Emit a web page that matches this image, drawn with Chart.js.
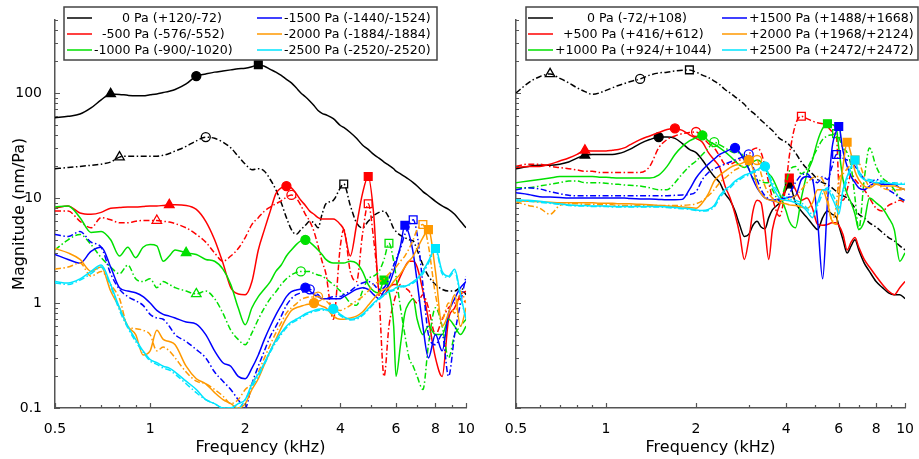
<!DOCTYPE html>
<html>
<head>
<meta charset="utf-8">
<script src="https://cdn.jsdelivr.net/npm/chart.js@4.4.1/dist/chart.umd.min.js"></script>
<style>
  body { margin: 0; background: #fff; }
  #wrap { position: relative; width: 919px; height: 459px; }
  #wrap canvas { position: absolute; top: 0; }
  #left { left: 0; }
  #right { left: 480px; }
</style>
</head>
<body>
<div id="wrap">
  <canvas id="left" width="480" height="459"></canvas>
  <canvas id="right" width="439" height="459"></canvas>
</div>
<script>
// frequency grid (kHz), shared by every curve
const freq = [0.5,0.55,0.6,0.65,0.7,0.75,0.8,0.85,0.9,0.95,
  1.0,1.05,1.1,1.15,1.2,1.3,1.4,1.5,1.6,1.7,
  1.8,1.9,2.0,2.1,2.2,2.3,2.4,2.5,2.6,2.7,
  2.8,2.9,3.0,3.1,3.2,3.3,3.4,3.5,3.6,3.8,
  4.0,4.1,4.3,4.5,4.7,4.9,5.1,5.3,5.5,5.7,
  5.9,6.0,6.2,6.4,6.6,6.8,7.0,7.3,7.6,8.0,
  8.4,8.8,9.2,9.6,10];

const xTicks = [0.5,0.6,0.7,0.8,0.9,1,2,3,4,5,6,7,8,9,10];
const xLabels = [0.5,1,2,4,6,8,10];
const yTicks = [0.1,0.2,0.3,0.4,0.5,0.6,0.7,0.8,0.9,1,2,3,4,5,6,7,8,9,
  10,20,30,40,50,60,70,80,90,100,200,300,400,500];
const yLabels = [0.1,1,10,100];

const legendL = ['       0 Pa (+120/-72)', '  -500 Pa (-576/-552)', '-1000 Pa (-900/-1020)',
  '-1500 Pa (-1440/-1524)', '-2000 Pa (-1884/-1884)', '-2500 Pa (-2520/-2520)'];
const legendR = ['        0 Pa (-72/+108)', '  +500 Pa (+416/+612)', '+1000 Pa (+924/+1044)',
  '+1500 Pa (+1488/+1668)', '+2000 Pa (+1968/+2124)', '+2500 Pa (+2472/+2472)'];
const legendKeys = ['k','r','g','b','o','c'];

// ---- negative pressure (left) ----
const L_k_s = [58,60,63,72,86,98,97,95,94,94,
  96,98,101,104,108,122,145,152,158,162,
  166,170,172,178,186,180,168,158,147,135,
  125,112,100,92,84,76,68,64,62,57,
  49,47,42,37,32,29,26,24,22,20.5,
  19,18,17,16,15,14,13,11.5,10.5,9.3,
  8.4,7.8,7,6,5.2];
const L_k_d = [19,19.5,20,20.5,21,22,24.5,25,25,25,
  25,25,25.5,26.5,28,31,35,38,37,34,
  30,25,21,18.6,19,18,15,12,9,6.5,
  5,4.5,5,5.5,6,5.8,5.2,7,8.8,9.5,
  12.5,13.6,8.5,5.8,5.2,6,6.8,7.3,7.5,6.5,
  5.1,4.8,4.4,4.2,4,3.9,3.2,2.3,1.8,1.5,
  1.35,1.3,1.3,1.4,1.2];
const L_r_s = [8,8.4,7.2,7,7.3,8,8.1,8.2,8.2,8.3,
  8.4,8.4,8.5,8.6,8.6,8.5,7.8,6,4,2.4,
  1.4,1.22,1.2,1.6,3.2,5,7.5,11,12.5,13,
  12.5,11,9.5,8.5,7.5,7,6.5,6.3,6.3,6.3,
  5.6,5,2.8,5.5,11,16,7,1.3,1.2,1.4,
  1.5,1.5,1.8,2.2,2.5,2.5,2.2,1.3,0.7,0.3,
  0.2,0.7,0.9,1.2,1.3];
const L_r_d = [7.5,7.5,6,5.2,6.5,6.2,5.8,5.8,6,6.1,
  6.1,6.1,6,5.9,5.7,5.2,4.5,3.8,3.0,2.5,
  2.8,3.3,4.2,5.6,6.5,7.5,8.2,8.8,9.4,10.2,
  10.7,10,8.5,7,6,4.8,3.5,2.5,1.9,0.7,
  3.5,5,2,1.6,4.5,8.8,4,1.2,0.2,0.6,
  1.0,1.2,1.5,1.4,1.3,1.1,1.0,1.2,0.9,0.5,
  0.7,0.9,1.0,1.1,1.0];
const L_g_s = [8.2,8.4,6.5,4.7,4.8,4,2.8,3.4,2.7,3.4,
  3.6,3.5,2.5,2.8,3.2,3.0,2.9,2.6,2.5,2.1,
  1.5,0.9,0.62,0.9,1.15,1.36,1.6,2.0,2.3,2.8,
  3.2,3.6,3.9,4.0,3.8,3.5,3.2,2.9,2.6,2.4,
  2.4,2.4,2.5,2.4,2.0,1.5,1.3,1.25,1.65,1.3,
  0.6,0.2,0.4,0.8,1.0,1.1,0.7,0.5,0.6,0.5,
  0.5,0.7,0.6,0.5,0.6];
const L_g_d = [3.2,4.0,4.5,3.6,2.7,2.2,1.9,2.3,1.7,1.6,
  1.7,1.4,1.6,1.5,1.4,1.3,1.22,1.3,1.1,0.8,
  0.55,0.45,0.4,0.52,0.7,0.9,1.1,1.28,1.5,1.7,
  1.85,1.95,2.0,2.0,2.0,1.9,1.85,1.8,1.7,1.5,
  1.3,1.2,1.0,0.95,1.3,1.7,1.8,2.0,2.6,3.7,
  2.5,1.8,0.9,0.5,0.3,0.25,0.2,0.15,0.4,0.9,
  0.6,0.3,0.5,0.6,0.7];
const L_b_s = [2.9,2.6,2.4,3.1,3.4,2.2,1.4,1.3,1.25,1.15,
  1.0,0.85,0.78,0.75,0.72,0.66,0.63,0.5,0.35,0.27,
  0.25,0.2,0.19,0.24,0.32,0.45,0.6,0.77,0.95,1.15,
  1.28,1.33,1.36,1.4,1.3,1.2,1.15,1.1,1.1,1.1,
  1.1,1.15,1.25,1.35,1.4,1.35,1.2,1.1,1.3,1.5,
  2.0,2.4,3.5,5.5,4.5,3.0,1.6,0.6,0.3,0.5,
  0.35,0.8,1.1,1.4,1.6];
const L_b_d = [4.5,4.3,4.8,3.8,3.4,1.9,1.35,1.15,1.05,0.95,
  0.78,0.72,0.7,0.6,0.5,0.43,0.36,0.3,0.22,0.18,
  0.15,0.12,0.1,0.17,0.25,0.35,0.48,0.6,0.75,0.95,
  1.1,1.2,1.25,1.3,1.35,1.25,1.2,1.1,1.1,1.15,
  1.15,1.2,1.3,1.45,1.55,1.6,1.5,1.35,1.4,1.7,
  2.3,2.6,3.3,4.5,5.3,6.2,4.5,1.5,0.5,0.4,
  0.5,0.2,0.5,1.0,1.8];
const L_o_s = [3.3,3.0,2.6,2.0,2.2,1.3,0.9,0.6,0.5,0.32,
  0.35,0.55,0.45,0.43,0.4,0.25,0.19,0.17,0.14,0.12,
  0.11,0.1,0.11,0.15,0.19,0.26,0.35,0.45,0.58,0.72,
  0.85,0.9,0.93,0.96,0.98,1.0,0.97,0.93,0.9,0.75,
  0.7,0.7,0.72,0.75,0.82,0.95,1.1,1.25,1.35,1.4,
  1.6,1.7,1.9,2.2,2.5,2.8,3.3,4.2,5.0,2.0,
  0.6,0.8,1.2,0.6,0.9];
const L_o_d = [2.1,2.2,2.4,1.8,2.0,1.5,1.1,0.6,0.57,0.55,
  0.5,0.35,0.38,0.35,0.3,0.22,0.18,0.17,0.15,0.13,
  0.11,0.12,0.15,0.17,0.22,0.3,0.4,0.52,0.65,0.8,
  0.9,0.98,1.08,1.12,1.14,1.14,1.15,1.1,1.05,0.9,
  0.85,0.87,0.95,1.05,1.15,1.3,1.5,1.6,1.7,1.9,
  2.1,2.2,2.5,2.8,3.3,4.0,5.0,5.6,3.5,1.2,
  0.7,1.0,0.8,1.3,1.0];
const L_c_s = [1.6,1.55,1.7,2.0,2.3,1.5,0.9,0.6,0.45,0.35,
  0.29,0.27,0.25,0.24,0.22,0.18,0.15,0.12,0.11,0.1,
  0.1,0.11,0.12,0.17,0.21,0.27,0.35,0.44,0.52,0.6,
  0.66,0.7,0.74,0.79,0.82,0.85,0.87,0.88,0.86,0.88,
  0.78,0.74,0.7,0.72,0.78,0.88,1.0,1.1,1.2,1.3,
  1.35,1.4,1.45,1.45,1.5,1.6,1.7,2.0,2.5,3.3,
  2.0,1.8,2.1,1.2,0.7];
const L_c_d = [1.55,1.5,1.65,1.9,2.2,1.45,0.85,0.58,0.43,0.34,
  0.28,0.26,0.24,0.23,0.21,0.17,0.14,0.12,0.11,0.1,
  0.1,0.1,0.12,0.16,0.2,0.26,0.34,0.42,0.5,0.58,
  0.64,0.68,0.72,0.77,0.8,0.83,0.85,0.86,0.85,0.84,
  0.76,0.72,0.69,0.7,0.76,0.86,0.98,1.08,1.18,1.27,
  1.32,1.38,1.42,1.43,1.48,1.55,1.65,1.9,2.4,3.2,
  1.9,1.75,2.0,1.15,0.7];

// ---- positive pressure (right) ----
const R_k_s = [19,20,20.5,20.5,21,22,24,25.5,26,26,
  26,26,26.5,27.5,29,33,36,38,38,37,
  33,29,27,23,19,16,14,11,9.5,7.5,
  5.5,4.3,4.5,5.5,6,5.3,5.1,6.5,7.7,9,
  12,13.6,9,7.5,6.5,5.6,5.0,6.5,7.5,7,
  6.5,5.5,4,3,3.5,4,3.2,2.4,2.0,1.6,
  1.4,1.25,1.2,1.2,1.1];
const R_k_d = [100,125,143,152,138,125,112,103,97,100,
  106,112,118,123,128,136,148,155,158,162,
  165,166,158,148,140,130,120,108,100,92,
  85,78,70,65,60,55,51,47,44,37,
  34,32,27,22,19,17,15,14,13.5,12.5,
  11.5,11,10.5,10,9,8,7,6.5,5.8,5.3,
  4.7,4.2,3.9,3.5,3.2];
const R_r_s = [19.5,20,20,21,22.5,24,26,28.5,28,28,
  28,28.5,29,30,32,36,39,42,45,46,
  44,40,37,34,27,23,19.5,13,10,7,
  4.5,2.6,4,7.5,9.5,9,5,2.6,5,8.5,
  13,15.5,12,9.5,10,8,5.6,5.5,5.6,5.8,
  5.8,5.5,4.5,3.2,3.8,4.2,3.4,2.6,2.2,1.8,
  1.5,1.3,1.2,1.4,1.6];
const R_r_d = [20,21,21,20,19.5,19,18.5,18,18,17.5,
  17.5,17.5,17.5,17.5,17.5,17.5,20,30,36,39,
  41,42,42.5,38,33,30,25,21,21,22,
  23,24,26,29,30,27,20,14,10,6.7,
  13.6,25,50,60,57,54,52,51,48,43,
  38,13.6,9.5,12,17,15,13.6,12,10,8,
  7.5,8.5,9,9.5,9];
const R_g_s = [14,14.5,15,15.5,16,16,16,16,16,15.8,
  15.8,15.6,15.5,15.5,15.5,15.5,15.5,16.5,20,26,
  31,35,37.5,39.5,35,32.5,30,27.5,25,22.5,
  20.5,19.5,20.5,22,23,22,19,17,15.5,11,
  7.5,6,5.2,10,17,23,35,46,51,50,
  45,30,15,11,9,7,5,6,10,9,
  8,6.5,5,2.5,3];
const R_g_d = [12.5,12.5,13,13.5,14,14.5,14.5,14,14,14,
  13.8,13.6,13.5,13.3,13.2,13,12.5,12,12,14,
  17,20,22.5,26,30,34,32,30,28,27,
  27,24,19,15.5,15,14.5,14,14,12,9.4,
  14,18,20,17,19,24,30,36,39,40,
  41,38,30,27,20,10,5,15,30,20,
  15.5,14,12,10,9.4];
const R_b_s = [11.2,10.8,10.3,10.2,10.1,10,10,10,10,10,
  10,10,10,10,9.9,9.8,9.8,9.7,9.6,9.6,
  9.7,12,15.5,18.5,21,23.5,26,27.5,29,30,
  27,23,19,15,12.5,11,10,9.7,9.5,9.8,
  10,10.2,10.5,15,16,15,6,1.7,9,30,
  44,48,28,20,16,14,12.5,12,13,14,
  13.5,13.5,13.5,12.5,12];
const R_b_d = [12,12.5,12.2,11.5,11,10.6,10.5,10.5,10.5,10.5,
  10.5,10.5,10.5,10.5,10.5,10.5,10.5,10.5,10.5,10.6,
  10.7,10.8,11.5,15,17.5,19,20,21,22,23,
  24,25,26,20,15,12,10.5,9.8,9.4,9.5,
  10,11,14,16.5,17,15,14,16,15,20,
  26,26,24,23,22,20,18,15,14,15,
  14,12,11,10,9.4];
const R_o_s = [9.4,9.3,9.2,9.1,9.0,9.0,9.0,9.0,9.0,8.9,
  8.9,8.9,8.8,8.8,8.8,8.7,8.6,8.5,8.4,8.3,
  8.2,8.1,8.0,9,11,14.5,16.5,18,19.5,20.5,
  21,22,23,19,13,11,10,9.6,9.5,9,
  8.8,8.6,8.5,8.2,8,9,12,12,9,6,
  5.6,10,20,34,26,18,15,13,12.5,13.5,
  13,13,13,12.5,12];
const R_o_d = [9.2,8.5,8.0,7.0,8.5,8.8,8.8,8.7,8.7,8.6,
  8.6,8.6,8.5,8.5,8.5,8.5,8.5,8.5,8.5,8.5,
  8.5,8.6,8.8,9.4,10.5,12,14,15.5,17,18.5,
  19.5,20.5,21.5,22.5,23,17,13,11,10,9.5,
  9.5,9.8,10.5,12,14,15.5,16,15,10,6,
  9,15,17,19,21,23,22,16,13,14,
  12.5,12,12,12,12];
const R_c_s = [9.6,9.5,9.3,9.0,8.8,8.6,8.5,8.5,8.4,8.4,
  8.4,8.3,8.3,8.3,8.3,8.3,8.3,8.3,8.2,8.1,
  8.0,7.9,7.7,7.6,7.8,8.5,10.5,12,13,14.5,
  15.5,16.5,17,18,18.5,19.5,20,16,13,10,
  9.5,9.4,9,8.5,7.5,6.5,9,12,12,10,
  8,7,12,16,20,23,17,15,14.5,14,
  14,13.8,13.6,13.5,13.5];
const R_c_d = [9.4,9.3,9.1,8.9,8.7,8.5,8.4,8.4,8.3,8.3,
  8.3,8.2,8.2,8.2,8.2,8.2,8.2,8.2,8.1,8.0,
  7.9,7.8,7.6,7.5,7.6,8.2,10,11.5,12.5,14,
  15,16,16.5,17.5,18,19,19.5,17,14,11,
  10,9.8,9.5,9,8,7,8.5,11,12.5,11,
  9,8,11,15,19,22,18,15.5,15,14.5,
  14.5,14,14,13.8,13.8];

// markers: [shape, frequency on the grid]
const marksL = {
  k_s: [['triangle',0.75],['circle',1.4],['rect',2.2]],
  k_d: [['triangle',0.8],['circle',1.5],['rect',4.1]],
  r_s: [['triangle',1.15],['circle',2.7],['rect',4.9]],
  r_d: [['triangle',1.05],['circle',2.8],['rect',4.9]],
  g_s: [['triangle',1.3],['circle',3.1],['rect',5.5]],
  g_d: [['triangle',1.4],['circle',3.0],['rect',5.7]],
  b_s: [['circle',3.1],['rect',6.4]],
  b_d: [['circle',3.2],['rect',6.8]],
  o_s: [['circle',3.3],['rect',7.6]],
  o_d: [['circle',3.4],['rect',7.3]],
  c_s: [['circle',3.8],['rect',8.0]],
  c_d: []
};
const marksR = {
  k_s: [['triangle',0.85],['circle',1.5],['rect',4.1]],
  k_d: [['triangle',0.65],['circle',1.3],['rect',1.9]],
  r_s: [['triangle',0.85],['circle',1.7],['rect',4.1]],
  r_d: [['circle',2.0],['rect',4.5]],
  g_s: [['circle',2.1],['rect',5.5]],
  g_d: [['circle',2.3],['rect',5.9]],
  b_s: [['circle',2.7],['rect',6.0]],
  b_d: [['circle',3.0],['rect',5.9]],
  o_s: [['circle',3.0],['rect',6.4]],
  o_d: [['circle',3.2],['rect',6.8]],
  c_s: [['circle',3.4],['rect',6.8]],
  c_d: []
};

const seriesL = { k_s: L_k_s, k_d: L_k_d, r_s: L_r_s, r_d: L_r_d, g_s: L_g_s, g_d: L_g_d,
  b_s: L_b_s, b_d: L_b_d, o_s: L_o_s, o_d: L_o_d, c_s: L_c_s, c_d: L_c_d };
const seriesR = { k_s: R_k_s, k_d: R_k_d, r_s: R_r_s, r_d: R_r_d, g_s: R_g_s, g_d: R_g_d,
  b_s: R_b_s, b_d: R_b_d, o_s: R_o_s, o_d: R_o_d, c_s: R_c_s, c_d: R_c_d };

const colors = { k: '#000000', r: '#ff0000', g: '#00e000', b: '#0000ff', o: '#ff9900', c: '#00e5ff' };
const drawOrder = { k: 6, r: 5, g: 4, b: 3, o: 2, c: 1 };

Chart.defaults.font.family = '"DejaVu Sans", sans-serif';
Chart.defaults.color = '#000';

function makeDataset(key, values, marks) {
  const color = colors[key[0]];
  const dashed = key[2] === 'd';
  const at = {};
  marks.forEach(m => { at[freq.indexOf(m[1])] = m[0]; });
  return {
    data: values.map((v, i) => ({ x: freq[i], y: v })),
    borderColor: color,
    borderWidth: 1.5,
    borderDash: dashed ? [6, 2.5, 1.5, 2.5] : [],
    cubicInterpolationMode: 'monotone',
    fill: false,
    pointStyle: values.map((v, i) => at[i] || 'circle'),
    pointRadius: values.map((v, i) => at[i] ? (at[i] === 'circle' ? 4.5 : 5.5) : 0),
    pointHoverRadius: 0,
    pointBorderColor: color,
    pointBorderWidth: 1.3,
    pointBackgroundColor: dashed ? 'rgba(255,255,255,0)' : color,
    order: drawOrder[key[0]]
  };
}

// ticks pointing inwards, like the original plot
const inwardTicks = {
  id: 'inwardTicks',
  afterDatasetsDraw(chart) {
    const { ctx, chartArea: a, scales: { x, y } } = chart;
    ctx.save();
    ctx.strokeStyle = '#555';
    ctx.lineWidth = 1.2;
    ctx.beginPath();
    x.ticks.forEach(t => {
      const px = Math.round(x.getPixelForValue(t.value)) + 0.5;
      const len = xLabels.includes(t.value) ? 5 : 3;
      ctx.moveTo(px, a.bottom);
      ctx.lineTo(px, a.bottom - len);
    });
    y.ticks.forEach(t => {
      const py = Math.round(y.getPixelForValue(t.value)) + 0.5;
      const len = yLabels.includes(t.value) ? 5 : 3;
      ctx.moveTo(a.left, py);
      ctx.lineTo(a.left + len, py);
    });
    ctx.stroke();
    ctx.restore();
  }
};

const boxLegend = {
  id: 'boxLegend',
  afterDraw(chart, args, o) {
    const ctx = chart.ctx;
    ctx.save();
    ctx.fillStyle = '#fff';
    ctx.fillRect(o.x, o.y, o.w, o.h);
    ctx.strokeStyle = '#444';
    ctx.lineWidth = 1.5;
    ctx.strokeRect(o.x, o.y, o.w, o.h);
    ctx.font = '12.6px "DejaVu Sans"';
    ctx.textBaseline = 'middle';
    o.labels.forEach((lab, i) => {
      const lx = o.cols[Math.floor(i / 3)];
      const ly = o.rows[i % 3];
      ctx.strokeStyle = colors[legendKeys[i]];
      ctx.lineWidth = 1.5;
      ctx.beginPath();
      ctx.moveTo(lx, ly);
      ctx.lineTo(lx + 25, ly);
      ctx.stroke();
      ctx.fillStyle = '#000';
      ctx.fillText(lab, lx + 27, ly + 0.5);
    });
    ctx.restore();
  }
};

function buildChart(id, series, marks, isLeft, legendOpts) {
  const datasets = Object.keys(series).map(k => makeDataset(k, series[k], marks[k]));
  return new Chart(document.getElementById(id), {
    type: 'line',
    data: { datasets },
    plugins: [inwardTicks, boxLegend],
    options: {
      responsive: false,
      animation: false,
      devicePixelRatio: 1,
      events: [],
      layout: { padding: { top: 19.6, right: 10, left: 0, bottom: 0 } },
      plugins: {
        legend: { display: false },
        tooltip: { enabled: false },
        boxLegend: legendOpts
      },
      scales: {
        x: {
          type: 'logarithmic',
          min: 0.5, max: 10,
          afterBuildTicks: s => { s.ticks = xTicks.map(v => ({ value: v })); },
          afterFit: s => { s.height = 51; },
          ticks: {
            autoSkip: false, maxRotation: 0, padding: 5,
            font: { size: 14 }, color: '#000',
            callback: v => xLabels.includes(v) ? String(v) : ''
          },
          grid: { display: false },
          border: { display: true, color: '#555', width: 1.5 },
          title: {
            display: true, text: 'Frequency (kHz)', color: '#000',
            font: { size: 16 }, padding: { top: 0, bottom: 2 }
          }
        },
        y: {
          type: 'logarithmic',
          min: 0.1, max: 500,
          afterBuildTicks: s => { s.ticks = yTicks.map(v => ({ value: v })); },
          afterFit: s => { s.width = isLeft ? 55 : 36; },
          ticks: {
            display: isLeft, autoSkip: false, padding: 5,
            font: { size: 14 }, color: '#000',
            callback: v => yLabels.includes(v) ? String(v) : ''
          },
          grid: { display: false },
          border: { display: true, color: '#555', width: 1.5 },
          title: {
            display: isLeft, text: 'Magnitude (nm/Pa)', color: '#000',
            font: { size: 16 }, padding: { top: 10, bottom: 0 }
          }
        }
      }
    }
  });
}

buildChart('left', seriesL, marksL, true,
  { labels: legendL, x: 64, y: 7, w: 373, h: 53, cols: [67, 257], rows: [18, 34, 50] });
buildChart('right', seriesR, marksR, false,
  { labels: legendR, x: 46, y: 7, w: 392, h: 53, cols: [48, 242], rows: [18, 34, 50] });
</script>
</body>
</html>
